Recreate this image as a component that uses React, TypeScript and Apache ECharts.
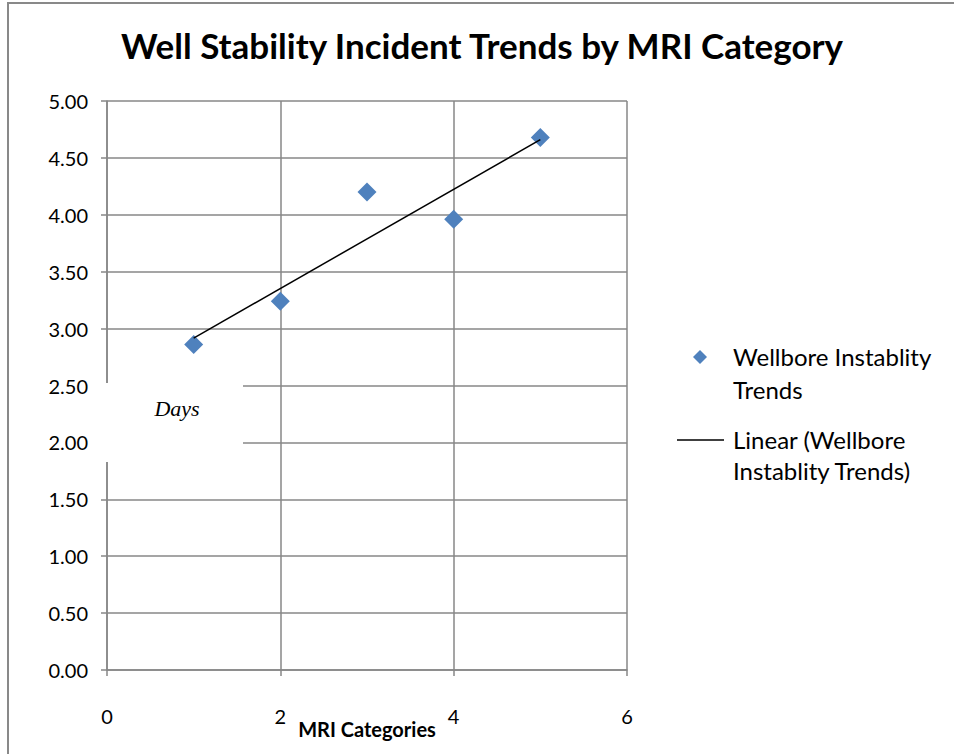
import React, { useEffect, useRef } from "react";
import * as echarts from "echarts";

const TITLE = "Well Stability Incident Trends by MRI Category";
const X_NAME = "MRI Categories";
const Y_NAME = "Days";
const SERIES_NAME = "Wellbore Instablity Trends";
const TREND_NAME = "Linear (Wellbore Instablity Trends)";
const LEGEND_LINES_1 = ["Wellbore Instablity", "Trends"];
const LEGEND_LINES_2 = ["Linear (Wellbore", "Instablity Trends)"];

const mriCategories = [1, 2, 3, 4, 5];
const daysValues = [2.86, 3.24, 4.2, 3.96, 4.68];

function linearFit(xs: number[], ys: number[]) {
  const n = xs.length;
  const mx = xs.reduce((a, b) => a + b, 0) / n;
  const my = ys.reduce((a, b) => a + b, 0) / n;
  let num = 0;
  let den = 0;
  for (let i = 0; i < n; i++) {
    num += (xs[i] - mx) * (ys[i] - my);
    den += (xs[i] - mx) * (xs[i] - mx);
  }
  const slope = num / den;
  const intercept = my - slope * mx;
  return (x: number) => intercept + slope * x;
}

const FONT = "Lato";

export default function App() {
  const ref = useRef<HTMLDivElement>(null);
  useEffect(() => {
    if (!ref.current) return;
    const chart = echarts.init(ref.current, undefined, { renderer: "svg" });
    const fit = linearFit(mriCategories, daysValues);
    const xMin = Math.min(...mriCategories);
    const xMax = Math.max(...mriCategories);
    const gridColor = "#878787";
    chart.setOption({
      animation: false,
      backgroundColor: "#ffffff",
      title: {
        text: TITLE,
        left: 477,
        top: 22,
        textAlign: "center",
        textStyle: {
          fontFamily: FONT,
          fontWeight: "bold",
          fontSize: 35,
          color: "#000000",
        },
      },
      grid: { left: 107, top: 101, width: 520, height: 569, containLabel: false },
      xAxis: {
        type: "value",
        min: 0,
        max: 6,
        interval: 2,
        name: X_NAME,
        nameLocation: "middle",
        nameGap: 59,
        nameMoveOverlap: false,
        nameTextStyle: {
          fontFamily: FONT,
          fontWeight: "bold",
          fontSize: 20,
          color: "#000",
          verticalAlign: "middle",
          padding: 0,
        },
        axisLine: { show: true, onZero: false, lineStyle: { color: gridColor, width: 1.5 } },
        axisTick: { show: true, length: 6, inside: false, lineStyle: { color: gridColor, width: 1.5 } },
        axisLabel: { margin: 36, fontFamily: FONT, fontSize: 20, color: "#000" },
        splitLine: { show: true, lineStyle: { color: gridColor, width: 1.5 } },
      },
      yAxis: {
        type: "value",
        min: 0,
        max: 5,
        interval: 0.5,
        axisLine: { show: true, onZero: false, lineStyle: { color: gridColor, width: 1.5 } },
        axisTick: { show: true, length: 6, inside: false, lineStyle: { color: gridColor, width: 1.5 } },
        axisLabel: {
          margin: 19,
          fontFamily: FONT,
          fontSize: 20,
          color: "#000",
          formatter: (v: number) => v.toFixed(2),
        },
        splitLine: { show: true, lineStyle: { color: gridColor, width: 1.5 } },
      },
      series: [
        {
          name: SERIES_NAME,
          type: "scatter",
          symbol: "diamond",
          symbolSize: 19,
          itemStyle: { color: "#4F81BD", opacity: 1 },
          data: mriCategories.map((x, i) => [x, daysValues[i]]),
          z: 3,
        },
        {
          name: TREND_NAME,
          type: "line",
          showSymbol: false,
          symbol: "none",
          lineStyle: { color: "#000", width: 1.5 },
          data: [
            [xMin, fit(xMin)],
            [xMax, fit(xMax)],
          ],
          z: 4,
        },
      ],
      graphic: [
        {
          type: "rect",
          shape: { x: 8, y: 3, width: 960, height: 770 },
          style: { fill: "none", stroke: "#898989", lineWidth: 2 },
          z: 100,
        },
        {
          type: "rect",
          shape: { x: 99, y: 383, width: 144, height: 79 },
          style: { fill: "#ffffff" },
          z: 100,
        },
        {
          type: "text",
          x: 177,
          y: 408,
          style: {
            text: Y_NAME,
            fontFamily: "Liberation Serif",
            fontStyle: "italic",
            fontSize: 22,
            fill: "#000",
            align: "center",
            verticalAlign: "middle",
          },
          z: 101,
        },
        {
          type: "polygon",
          shape: {
            points: [
              [700, 350],
              [707, 357],
              [700, 364],
              [693, 357],
            ],
          },
          style: { fill: "#4F81BD" },
          z: 101,
        },
        {
          type: "text",
          x: 733,
          y: 373,
          style: {
            text: LEGEND_LINES_1.join("\n"),
            fontFamily: FONT,
            fontSize: 24,
            lineHeight: 33,
            fill: "#000",
            align: "left",
            verticalAlign: "middle",
          },
          z: 101,
        },
        {
          type: "line",
          shape: { x1: 677, y1: 440, x2: 724, y2: 440 },
          style: { stroke: "#000", lineWidth: 1.5 },
          z: 101,
        },
        {
          type: "text",
          x: 733,
          y: 455,
          style: {
            text: LEGEND_LINES_2.join("\n"),
            fontFamily: FONT,
            fontSize: 24,
            lineHeight: 31,
            fill: "#000",
            align: "left",
            verticalAlign: "middle",
          },
          z: 101,
        },
      ],
    });
    return () => chart.dispose();
  }, []);
  return (
    <div
      ref={ref}
      style={{ position: "fixed", left: 0, top: 0, width: 954, height: 754 }}
    />
  );
}
